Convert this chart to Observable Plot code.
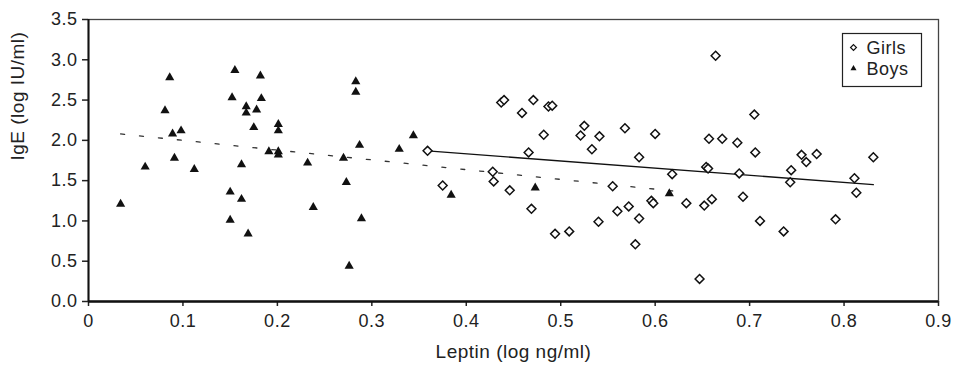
<!DOCTYPE html>
<html>
<head>
<meta charset="utf-8">
<script src="https://cdn.jsdelivr.net/npm/d3@7"></script>
<script src="https://cdn.jsdelivr.net/npm/@observablehq/plot@0.6"></script>
<style>
  html, body { margin: 0; padding: 0; background: #fff; }
  #chart { width: 953px; height: 368px; }
</style>
</head>
<body>
<div id="chart"></div>
<script>
const xLabel = "Leptin (log ng/ml)";
const yLabel = "IgE (log IU/ml)";
const xTicks = [0, 0.1, 0.2, 0.3, 0.4, 0.5, 0.6, 0.7, 0.8, 0.9];
const yTicks = [0, 0.5, 1.0, 1.5, 2.0, 2.5, 3.0, 3.5];
const seriesNames = ["Girls", "Boys"];

const boysX = [0.034,0.060,0.081,0.086,0.089,0.091,0.098,0.112,0.150,0.150,0.152,0.155,0.162,0.162,0.167,0.167,0.169,0.175,0.178,0.182,0.183,0.191,0.201,0.201,0.201,0.201,0.232,0.238,0.270,0.273,0.276,0.283,0.283,0.287,0.289,0.329,0.344,0.384,0.473,0.615];
const boysY = [1.21,1.67,2.37,2.78,2.08,1.78,2.12,1.64,1.36,1.01,2.53,2.87,1.70,1.27,2.42,2.34,0.84,2.16,2.38,2.80,2.52,1.86,2.20,2.12,1.86,1.82,1.72,1.17,1.78,1.48,0.44,2.73,2.60,1.94,1.03,1.89,2.06,1.32,1.41,1.34];

const girlsX = [0.359,0.375,0.428,0.429,0.437,0.440,0.446,0.459,0.466,0.469,0.471,0.482,0.487,0.491,0.494,0.509,0.521,0.525,0.533,0.540,0.541,0.555,0.560,0.568,0.572,0.579,0.583,0.583,0.596,0.598,0.600,0.618,0.633,0.647,0.652,0.654,0.656,0.657,0.660,0.664,0.671,0.687,0.689,0.693,0.705,0.706,0.711,0.736,0.743,0.744,0.755,0.760,0.771,0.791,0.811,0.813,0.831];
const girlsY = [1.87,1.44,1.61,1.49,2.47,2.50,1.38,2.34,1.85,1.15,2.50,2.07,2.42,2.43,0.84,0.87,2.06,2.18,1.89,0.99,2.05,1.43,1.12,2.15,1.18,0.71,1.79,1.03,1.25,1.22,2.08,1.58,1.22,0.28,1.19,1.67,1.65,2.02,1.27,3.05,2.02,1.97,1.59,1.30,2.32,1.85,1.00,0.87,1.48,1.63,1.82,1.73,1.83,1.02,1.53,1.35,1.79];

// trend lines (end points)
const boysTrendX = [0.034, 0.62];
const boysTrendY = [2.08, 1.37];
const girlsTrendX = [0.359, 0.831];
const girlsTrendY = [1.87, 1.45];

const boys = boysX.map((x, i) => ({x, y: boysY[i]}));
const girls = girlsX.map((x, i) => ({x, y: girlsY[i]}));
const boysTrend = boysTrendX.map((x, i) => ({x, y: boysTrendY[i]}));
const girlsTrend = girlsTrendX.map((x, i) => ({x, y: girlsTrendY[i]}));

const font = "'Liberation Sans', Arial, Helvetica, sans-serif";

const chart = Plot.plot({
  width: 953,
  height: 368,
  marginLeft: 88,
  marginRight: 15,
  marginTop: 19,
  marginBottom: 67,
  style: { fontFamily: font, fontSize: "18px", color: "#222", background: "#fff", letterSpacing: "0.5px" },
  x: { domain: [0, 0.9] },
  y: { domain: [0, 3.5] },
  marks: [
    Plot.frame({ stroke: "#444", strokeWidth: 1.3 }),
    Plot.axisX({ ticks: xTicks, tickFormat: d => d === 0 ? "0" : d.toFixed(1), tickSize: 5, tickPadding: 8, label: null, stroke: "#222", strokeWidth: 1.5, fontSize: 18 }),
    Plot.axisY({ ticks: yTicks, tickFormat: d => d.toFixed(1), tickSize: 6, tickPadding: 5, label: null, stroke: "#222", strokeWidth: 1.5, fontSize: 18 }),
    Plot.ruleY([0], { stroke: "#111", strokeWidth: 2.5 }),
    Plot.ruleX([0], { stroke: "#111", strokeWidth: 2 }),
    Plot.line(boysTrend, { x: "x", y: "y", stroke: "#333", strokeWidth: 1.3, strokeDasharray: "4,15" }),
    Plot.line(girlsTrend, { x: "x", y: "y", stroke: "#111", strokeWidth: 1.4 }),
    Plot.dot(boys, { x: "x", y: "y", symbol: "triangle", r: 3.4, fill: "#111", stroke: "none" }),
    Plot.dot(girls, { x: "x", y: "y", symbol: "diamond2", r: 4, fill: "#fff", stroke: "#111", strokeWidth: 1.5 }),
    Plot.text([xLabel], { text: d => d, frameAnchor: "bottom", dy: 56, fontSize: 19, fill: "#222" }),
    Plot.text([yLabel], { text: d => d, frameAnchor: "left", dx: -71, rotate: -90, fontSize: 19, fill: "#222" })
  ]
});

document.getElementById("chart").appendChild(chart);

// legend
const svg = d3.select(chart);
const lg = svg.append("g").attr("transform", "translate(842.5,33.5)").attr("text-anchor", "start");
lg.append("rect").attr("width", 79).attr("height", 53).attr("fill", "#fff").attr("stroke", "#222").attr("stroke-width", 1.2);
const syms = [d3.symbol(d3.symbolDiamond2, 22)(), d3.symbol(d3.symbolTriangle, 16)()];
seriesNames.forEach((name, i) => {
  const cy = 14 + i * 21;
  lg.append("path").attr("d", syms[i]).attr("transform", `translate(11,${cy})`)
    .attr("fill", i === 0 ? "#fff" : "#111").attr("stroke", i === 0 ? "#111" : "none").attr("stroke-width", 1.2);
  lg.append("text").attr("x", 24).attr("y", cy).attr("dy", "0.36em")
    .attr("font-family", font).attr("font-size", 18).attr("fill", "#222").text(name);
});
</script>
</body>
</html>
